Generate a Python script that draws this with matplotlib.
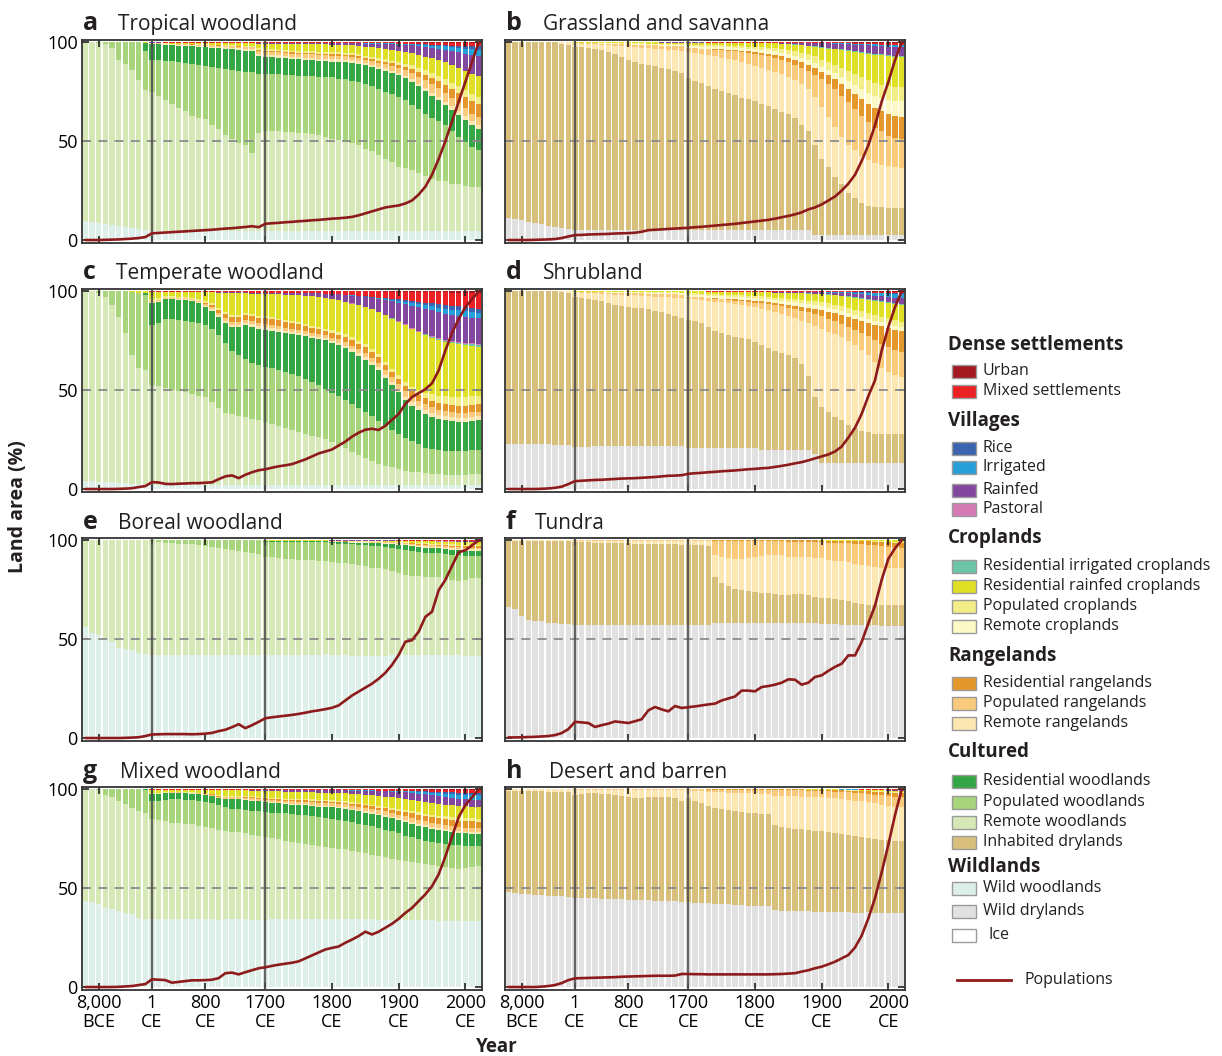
import numpy as np
import matplotlib
matplotlib.use("Agg")
import matplotlib.pyplot as plt
from matplotlib.patches import Rectangle

plt.rcParams['font.family'] = ['Open Sans', 'DejaVu Sans']

# one bar per time step: 10,000 BCE ... 1,000 BCE, 1 CE, 100 ... 1700 CE, 1710 ... 2000 CE, 2010, 2015
n_steps = 60
tick_pos = [2, 10, 18, 27, 37, 47, 57]
tick_labels = ['8,000\nBCE', '1\nCE', '800\nCE', '1700\nCE', '1800\nCE', '1900\nCE', '2000\nCE']

# stacking order, bottom first
order = ['ice', 'wd', 'ww', 'idl', 'rw', 'pw', 'resw', 'rr', 'pr', 'resr',
         'rc', 'pc', 'rrc', 'ric', 'pv', 'rv', 'iv', 'rice', 'mix', 'urb']
colors = {
    'urb': '#a3191f', 'mix': '#ed2024', 'rice': '#3a64b0', 'iv': '#27a0da',
    'rv': '#8447a0', 'pv': '#d67ab6', 'ric': '#6cc5a5', 'rrc': '#dfdf26',
    'pc': '#f2ed86', 'rc': '#fdf9c6', 'resr': '#e4982c', 'pr': '#f9c97c',
    'rr': '#fce7b3', 'resw': '#35a645', 'pw': '#a8d47b', 'rw': '#d5e8b6',
    'idl': '#d8bf7b', 'ww': '#dcefe9', 'wd': '#e1e1e1', 'ice': '#ffffff',
}

# ---- a  Tropical woodland (share of area, %) ----
a_ww = [9.5, 9, 8.5, 8, 7.5, 7, 6.5, 6, 5.5, 5] + [4.5] * 50
a_rw = [90.5, 91, 91, 91, 89.5, 84, 82.5, 80, 75.5, 71,
        70.5, 68.5, 66.5, 64.5, 62.5, 60.5, 58.5, 57.5, 56.5, 53.5,
        51.5, 48.5, 46.5, 44.5, 43.5, 39.5, 49.5, 50.5, 50.5, 50.5,
        50, 50, 49.5, 49.5, 49, 48.5, 47.5, 46.5, 46, 45.5,
        44.5, 43.5, 41.5, 40.5, 38.5, 36.5, 34.5, 32.5, 31.5, 30.5,
        29.5, 28, 26.5, 25.5, 25, 24, 23.5, 23, 22.5, 22.5]
a_pw = [0, 0, 0.5, 1, 3, 9, 11, 14, 19, 19.5,
        16.4, 18, 20, 21.5, 23, 24.5, 26, 26.5, 27, 29.5,
        31, 33.5, 35, 36.5, 37, 41, 30, 29, 29, 29,
        29, 29, 29, 29, 29.5, 29.5, 30.5, 31, 31, 31,
        31.5, 32, 33, 33, 33.5, 34, 34.5, 35, 34, 33,
        32, 31.5, 31, 30, 28.5, 26.5, 24, 22.5, 20, 18.5]
a_resw = [0] * 9 + [4,
          8, 8, 8, 8, 8.5, 8.5, 9, 9.5, 9.5, 9.5,
          10, 10, 10.5, 10.5, 10.5, 10.5, 9, 8.5, 8.5, 8,
          8.5, 8, 8.5, 8, 8, 8, 8, 8, 8.5, 8.5,
          9, 9, 9.5, 9.5, 10, 10.5, 10.5, 11, 11, 11.5,
          11.5, 11.5, 11, 10.5, 10, 11, 11, 11, 11, 10.5]
a_rr = [0] * 9 + [0.2] + [0.2, 0.3, 0.3, 0.4, 0.4, 0.5, 0.5, 0.6, 0.6, 0.7,
                          0.8, 0.8, 0.9, 1, 1.1, 1.2, 1.2, 1.2, 1.2, 1.2] + [1.2] * 18 + \
       [1.3, 1.3, 1.4, 1.4, 1.5, 1.5, 1.6, 1.7, 1.8, 1.9, 2, 2]
a_pr = [0] * 9 + [0.1] + [0.1, 0.2, 0.2, 0.3, 0.3, 0.3, 0.4, 0.4, 0.5, 0.6,
                          0.6, 0.7, 0.7, 0.8, 0.9, 0.9, 1.5, 1.5, 1.5, 1.6,
                          1.6, 1.6, 1.7, 1.7, 1.7, 1.8, 1.8, 1.8, 1.8, 1.7,
                          1.6, 1.6, 1.5, 1.7, 1.9, 2.1, 2.3, 2.5, 2.8, 3.1,
                          3.5, 4, 4.5, 4.5, 4.5, 4.3, 4.2, 4.1, 4, 4]
a_resr = [0] * 12 + [0.05, 0.05, 0.1, 0.1, 0.1, 0.1, 0.1, 0.1,
                     0.2, 0.2, 0.2, 0.2, 0.2, 0.2, 0.5, 0.5, 0.5, 0.5,
                     0.5, 0.6, 0.6, 0.6, 0.6, 0.7, 0.7, 0.7, 0.8, 0.8,
                     0.9, 0.9, 1, 1.1, 1.2, 1.3, 1.4, 1.5, 1.7, 2,
                     2.4, 2.7, 3, 3.5, 4, 4.5, 5, 5.7, 6.4, 7]
a_pc = [0] * 10 + [0.1, 0.1, 0.1, 0.1, 0.2, 0.2, 0.2, 0.2, 0.3, 0.3,
                   0.3, 0.3, 0.4, 0.4, 0.4, 0.5, 0.8, 0.8, 0.8, 0.8,
                   0.8, 0.9, 0.9, 0.9, 0.9, 1, 1, 1, 1, 1,
                   1, 1, 1, 1, 1.1, 1.2, 1.3, 1.4, 1.6, 1.8,
                   2, 2.3, 2.5, 2.7, 2.9, 3.1, 3.3, 3.4, 3.5, 3.5]
a_rrc = [0] * 9 + [0.2] + [0.2, 0.3, 0.4, 0.4, 0.5, 0.5, 0.6, 0.7, 0.8, 0.8,
                           0.9, 1, 1.1, 1.2, 1.3, 1.4, 2.4, 2.8, 2.9, 3,
                           3.1, 3.2, 3.3, 3.4, 3.5, 3.6, 3.7, 3.8, 3.9, 4,
                           4.2, 4.5, 4.8, 5, 5.2, 5.3, 5.4, 5.5, 5.8, 6.1,
                           6.5, 7, 7.5, 8, 8.5, 9, 9.5, 10, 10.3, 10.5]
a_rv = [0] * 10 + [0.05, 0.05, 0.05, 0.1, 0.1, 0.1, 0.1, 0.1, 0.1, 0.2,
                   0.1, 0.2, 0.2, 0.2, 0.2, 0.2, 0.4, 0.5, 0.5, 0.5,
                   0.6, 0.6, 0.6, 0.7, 0.7, 0.7, 0.7, 0.8, 0.8, 0.9,
                   1, 1.2, 1.5, 1.8, 2.1, 2.5, 2.9, 3.3, 3.7, 4,
                   4.4, 4.8, 5.2, 5.7, 6.3, 7, 7.8, 8.6, 9.4, 10]
a_iv = [0] * 30 + [0.05] * 10 + [0.1, 0.1, 0.2, 0.2, 0.3, 0.3, 0.4, 0.5, 0.6, 0.7,
                                 0.9, 1.1, 1.3, 1.5, 1.7, 2, 2.2, 2.5, 2.8, 3]
a_rice = [0] * 50 + [0.2, 0.3, 0.4, 0.5, 0.6, 0.8, 1, 1.3, 1.6, 2]
a_mix = [0] * 10 + [0.05, 0.05, 0.1, 0.1, 0.1, 0.1, 0.1, 0.1, 0.1, 0.1,
                    0.1, 0.1, 0.1, 0.2, 0.2, 0.2, 0.2, 0.2, 0.2, 0.2] + [0.3] * 10 + \
        [0.3, 0.3, 0.4, 0.4, 0.5, 0.5, 0.5, 0.6, 0.6, 0.7,
         0.8, 0.9, 1, 1.1, 1.2, 1.3, 1.4, 1.5, 1.5, 1.5]
a_urb = [0] * 50 + [0.1, 0.1, 0.2, 0.2, 0.2, 0.3, 0.3, 0.4, 0.5, 0.5]
pop_a = [0, 0, 0, 0.1, 0.2, 0.3, 0.5, 0.7, 1, 1.5,
         3.4, 3.6, 3.8, 4, 4.2, 4.4, 4.6, 4.8, 5, 5.2,
         5.5, 5.8, 6, 6.3, 6.6, 7, 6.5, 8.2, 8.5, 8.7,
         9, 9.2, 9.5, 9.7, 10, 10.2, 10.5, 10.8, 11, 11.3,
         11.7, 12.5, 13.5, 14.5, 15.5, 16.5, 17, 17.5, 18.5, 20,
         23, 27, 33, 41, 50, 60, 70, 80, 90, 100]

# ---- b  Grassland and savanna ----
b_wd = [11, 10.5, 10, 9, 8.5, 8, 7, 6.5, 6, 5.5] + [5] * 36 + [2.5] * 14
b_idl = [89, 89.5, 90, 91, 91.5, 92, 93, 93.5, 93, 92.5,
         92.8, 92.4, 92, 91.5, 91, 90.2, 89.2, 87.5, 86, 85,
         84, 83.5, 83, 82.2, 81.5, 80.3, 79.3, 76.8, 75.5, 74.5,
         73, 71.5, 70.5, 69.5, 68.5, 67, 66, 65, 63.5, 62.5,
         61, 59.8, 58.5, 56.5, 53, 50, 45.5, 38.5, 34.5, 29.5,
         26, 21.5, 18.5, 16, 14.5, 14, 13.7, 13.5, 13.5, 13.5]
b_rr = [0] * 8 + [1, 1.5,
                  1.7, 1.9, 2, 2.5, 2.8, 3.3, 4.1, 5.5, 6.8, 7.5,
                  8.3, 8.5, 8.8, 9.3, 9.8, 10.7, 11.2, 13.2, 14, 14.5,
                  15.5, 16.5, 16.5, 17, 17.5, 18, 18, 18, 18.5, 18.5,
                  19, 19.2, 19, 19.5, 21, 21, 24, 26, 25, 25,
                  23.5, 24, 24, 23.5, 23, 22, 21.3, 21, 20.5, 20.5]
b_pr = [0] * 10 + [0.2, 0.3, 0.4, 0.4, 0.5, 0.7, 0.8, 1, 1.1, 1.3,
                   1.4, 1.6, 1.7, 1.9, 2, 2.2, 2.5, 2, 2.3, 2.6,
                   2.9, 3.2, 4, 4.1, 4.3, 5, 5.5, 6, 6.3, 6.6,
                   7, 7, 7.5, 7.5, 8, 9, 11, 14, 16.5, 19,
                   21, 22, 21, 20, 19, 17.5, 16.5, 15, 15, 14.5]
b_resr = [0] * 30 + [0.2, 0.3, 0.4, 0.5, 0.6, 0.7, 0.8, 1, 1.2, 1.4,
                     1.5, 1.7, 2, 2.5, 2.8, 3.3, 3.7, 4, 4.5, 5,
                     6, 6.5, 7.5, 8.5, 9, 10, 10, 11, 11, 11]
b_rc = [0] * 10 + [0.1, 0.1, 0.2, 0.2, 0.2, 0.2, 0.3, 0.3, 0.3, 0.4,
                   0.4, 0.4, 0.5, 0.5, 0.5, 0.6, 0.6, 1, 1, 1.1,
                   1.1, 1.1, 1.2, 1.3, 1.3, 1.4, 1.4, 1.5, 1.6, 1.7,
                   1.8, 1.9, 2, 2.1, 2.2, 2.3, 2.4, 2.5, 2.8, 3.1,
                   3.5, 4, 4.5, 5, 5.5, 6, 6.5, 7, 7.5, 8]
b_pc = [0] * 10 + [0.1] * 5 + [0.2] * 5 + [0.3, 0.3, 0.3, 0.3, 0.4, 0.4, 0.4, 0.7, 0.7, 0.8,
                                           0.8, 0.8, 0.8, 0.9, 0.9, 0.9, 1, 1, 1.2, 1.4,
                                           1.6, 1.8, 2, 2.3, 2.6, 2.9, 3.2, 3.5, 3.8, 4.1,
                                           4.5, 5, 5.5, 6, 6.3, 6.6, 6.8, 7, 7, 7]
b_rrc = [0] * 10 + [0.1, 0.1, 0.2, 0.2, 0.3, 0.3, 0.3, 0.4, 0.5, 0.5,
                    0.5, 0.6, 0.6, 0.7, 0.7, 0.7, 0.9, 1.1, 1.2, 1.2,
                    1.2, 1.3, 1.3, 1.4, 1.5, 1.6, 1.8, 1.8, 2, 2.2,
                    2.4, 2.7, 3, 3.4, 3.8, 4.3, 5, 6, 7, 8,
                    9, 10, 11, 12, 13, 14, 14.5, 15, 15, 15]
b_ric = [0] * 40 + [0.05, 0.05, 0.1, 0.1, 0.1, 0.1, 0.2, 0.3, 0.3, 0.3,
                    0.4, 0.4, 0.4, 0.5, 0.5, 0.5, 0.5, 0.5, 0.5, 0.5]
b_rv = [0] * 23 + [0.05] * 4 + [0.1] * 7 + [0.2] * 3 + [0.3] * 3 + \
       [0.4, 0.5, 0.6, 0.8, 1, 1.3, 1.6, 2, 2.3, 2.6,
        2.9, 3.1, 3.3, 3.5, 3.7, 3.9, 4.1, 4.3, 4.4, 4.5]
b_iv = [0] * 42 + [0.05, 0.05, 0.1, 0.1, 0.1, 0.2, 0.2, 0.3,
                   0.3, 0.4, 0.5, 0.6, 0.6, 0.7, 0.8, 0.9, 1, 1]
b_mix = [0] * 10 + [0.05] * 20 + [0.1] * 12 + [0.2] * 6 + [0.3, 0.3] + \
        [0.4, 0.5, 0.5, 0.6, 0.7, 0.8, 0.8, 0.9, 1, 1]
b_urb = [0] * 52 + [0.1, 0.1, 0.2, 0.2, 0.3, 0.3, 0.4, 0.5]
pop_b = [0, 0, 0, 0, 0.1, 0.2, 0.3, 0.5, 1, 1.8,
         2.5, 2.6, 2.8, 2.9, 3, 3.1, 3.3, 3.4, 3.5, 3.7,
         4.2, 5, 5.2, 5.4, 5.6, 5.8, 6, 6.2, 6.5, 6.7,
         7, 7.3, 7.6, 7.9, 8.2, 8.6, 9, 9.4, 9.8, 10.2,
         10.8, 11.5, 12.2, 13, 14, 15.5, 16.5, 18, 20, 22,
         25, 28.5, 33, 40, 48, 58, 70, 80, 91, 100]

# ---- c  Temperate woodland ----
c_ww = [4, 4, 3.8, 3.6, 3.4, 3.2, 3, 2.8, 2.6, 2.5] + [2.2] * 50
c_rw = [96, 96, 95.2, 93.4, 89.6, 83.8, 76, 65.2, 59.4, 57.5,
        50.3, 49.8, 48.8, 47.8, 47.3, 46.8, 45.8, 44.8, 44.3, 41.8,
        38.8, 36.3, 35.8, 34.8, 34.3, 33.3, 32.8, 31.8, 30.8, 29.8,
        28.8, 27.8, 26.8, 25.8, 24.8, 24.3, 23.3, 21.8, 20.3, 18.8,
        16.8, 15.3, 13.8, 12.3, 10.8, 9.8, 9.2, 8.3, 7.3, 6.8,
        6.3, 5.8, 5.5, 5.3, 5.1, 5, 5, 5.1, 5.3, 5.5]
c_pw = [0, 0, 1, 3, 7, 13, 21, 32, 38, 38,
        30.5, 32, 35, 36, 36, 36, 36.5, 37, 36.5, 37,
        37, 35.5, 32, 31, 29.5, 28.5, 28, 28, 28.5, 28.5,
        28.5, 28.5, 28.5, 28, 27.5, 26.5, 25.5, 25.5, 25.5, 25,
        25, 24.5, 24, 23.5, 22.5, 21, 19, 18, 17, 16,
        14.5, 13, 12.3, 12, 11.7, 11.8, 11.8, 11.7, 12, 12.3]
c_resw = [0] * 9 + [1,
          11, 10.5, 10, 10, 10, 10.5, 10.5, 10, 9, 9,
          9, 10, 12, 14, 17, 18, 18.5, 19, 19, 19.5,
          20, 20.5, 21, 22, 22.5, 23.5, 25, 25.5, 26, 26.5,
          27, 27, 27, 26.5, 26.5, 25, 23.5, 21.5, 19.5, 18,
          17.5, 17, 16.5, 15.5, 15.5, 15, 15, 15, 15, 15]
c_rr = [0] * 9 + [0.2] + [0.5, 0.5, 0.4, 0.4, 0.5, 0.5, 0.5, 0.6, 0.8, 1,
                          1.2, 1.3, 1.4, 1.4, 1.4, 1.5, 1.5, 1.5, 1.3, 1.2,
                          1.1, 1, 1, 1, 1, 1, 1, 1.1, 1.2, 1.3,
                          1.4, 1.5, 1.5, 1.5, 1.5, 1.5, 1.5, 1.6, 1.7, 1.8] + [1.9] + [2] * 9
c_resr = [0] * 18 + [0.5, 1,
                     1.5, 2, 2.5, 2.5, 2.5, 2.5, 2.5, 3, 3, 3,
                     3, 3, 3, 3, 3, 3, 2.5, 2.5, 2.5, 2.5,
                     2.8, 3, 3, 3, 3, 3, 3, 3, 3, 3,
                     3, 3, 3.2, 3.3, 3.4, 3.5, 3.5, 3.6, 3.8, 4]
c_pr = [0] * 10 + [0.5, 0.5, 0.4, 0.4, 0.5, 0.5, 0.5, 0.6, 0.8, 1,
                   1.2, 1.3, 1.5, 1.5, 1.5, 1.5, 1.5, 1.5, 1.5, 1.5,
                   1.5, 1.5, 1.5, 1.5, 1.5, 1.5, 1.5, 1.7, 1.8, 1.9,
                   2, 2, 2.1, 2.2, 2.3, 2.4, 2.5, 2.6, 2.7, 2.8,
                   2.9, 3, 2.9, 2.8, 2.7, 2.6, 2.5, 2.3, 2.2, 2]
c_pc = [0] * 10 + [1, 1, 0.8, 0.8, 0.8, 0.8, 0.9, 1, 1, 1] + [1] * 17 + [1.2, 1.3, 1.4,
        1.5, 1.5, 1.5, 1.5, 1.5, 1.5, 1.6, 1.8, 2, 2.2,
        2.5, 3, 3.3, 3.6, 3.9, 4.2, 4.5, 4.5, 4.3, 4]
c_rrc = [0, 0, 0, 0, 0, 0, 0, 0.5, 1, 0.8,
         4, 3.5, 2.4, 2.4, 2.6, 2.6, 3, 3.7, 4.6, 5.6,
         7.6, 10, 10.9, 10.9, 9.8, 10.6, 11.2, 11.2, 11.8, 12.3,
         12.8, 13.4, 13.8, 14.3, 15, 15.3, 15.8, 16.2, 16.4, 16.8,
         17.5, 18.5, 19.4, 20.7, 22, 24.3, 26, 27.5, 29, 29.8,
         29.6, 29, 28.5, 28, 27.5, 27, 26.5, 26, 25.5, 25]
c_ric = [0] * 45 + [0.1, 0.1, 0.2, 0.2, 0.3, 0.4, 0.5, 0.5, 0.6, 0.6, 0.7, 0.7, 0.8, 0.8, 0.8]
c_pv = [0] * 40 + [0.1, 0.1, 0.1, 0.1, 0.2, 0.2, 0.3, 0.3, 0.4, 0.4] + [0.5] * 10
c_rv = [0] * 20 + [0.2, 0.3, 0.4, 0.5, 0.5, 0.5, 0.6, 0.7, 0.8, 0.9,
                   1, 1.1, 1.2, 1.3, 1.5, 1.7, 2, 2.5, 3, 3.5,
                   4, 4.5, 5, 5.5, 6.5, 7.5, 8.5, 9.5, 10.5, 11.5,
                   12, 12.5, 12.8] + [13] * 7
c_iv = [0] * 40 + [0.1, 0.2, 0.3, 0.4, 0.5, 0.6, 0.8, 1, 1.2, 1.4,
                   1.6, 1.8, 2, 2.2, 2.4, 2.6, 2.8, 3, 3, 3]
c_rice = [0] * 40 + [0.1, 0.1, 0.2, 0.2, 0.3, 0.4, 0.5, 0.6, 0.8, 1,
                     1.2, 1.4, 1.6, 1.8] + [2] * 6
c_mix = [0] * 10 + [0.1, 0.1, 0.1, 0.1, 0.2, 0.2, 0.2, 0.2, 0.3, 0.4,
                    0.4, 0.4, 0.5, 0.5, 0.5, 0.6, 0.6, 0.6, 0.6, 0.6,
                    0.7, 0.7, 0.8, 0.9, 1, 1, 1.2, 1.3, 1.5, 1.8,
                    2, 2.3, 2.6, 3, 3.3, 3.5, 3.8, 4, 4.3, 4.6,
                    5, 5.3, 5.6, 6, 6.3, 6.6, 7, 7.3, 7.6, 8]
c_urb = [0] * 45 + [0.1, 0.1, 0.2, 0.2, 0.3, 0.3, 0.4, 0.4, 0.5, 0.5, 0.6, 0.6, 0.7, 0.7, 0.7]
pop_c = [0, 0, 0, 0, 0, 0.1, 0.2, 0.4, 1, 1.5,
         3.5, 3.3, 2.6, 2.5, 2.7, 2.8, 3, 3, 3.2, 3.4,
         5, 6.4, 6.9, 5.5, 7.2, 8.5, 9.5, 10, 10.8, 11.5,
         12, 12.6, 13.8, 15, 16.5, 18, 19, 20, 22, 24,
         26.5, 28.5, 30, 30.5, 29.9, 32, 35, 38, 43, 46.5,
         48.5, 50.5, 53.5, 60, 70, 79, 86, 92, 96, 100]

# ---- d  Shrubland ----
d_wd = [23, 23, 23, 23, 22.8, 22.7, 22.6, 22.5, 22.3, 22.2] + [21.5] * 17 + [20.5] * 11 + \
       [19.5] * 8 + [17.5] + [13] * 13
d_idl = [77, 77, 77, 77, 77.2, 77.3, 77.4, 77.5, 77.2, 76.8,
         75.5, 75, 74.5, 74, 73.5, 72.5, 71.5, 71, 70.5, 70,
         69.7, 69.5, 68.5, 67.5, 66.5, 65.5, 64.5, 64.9, 64, 63,
         61, 59, 58, 57, 56, 55.5, 54.8, 53.5, 53, 51.5,
         50, 49, 48, 46.5, 43.5, 37.5, 28.5, 28, 25, 22.5,
         21, 18.5, 17, 15.5, 15, 14.5, 14.3, 14.5, 14.7, 14.7]
d_rr = [0] * 8 + [0.5, 1,
                  2.5, 2.8, 3, 3.3, 3.6, 4.4, 5.2, 5.5, 5.8, 6.1,
                  6.2, 6.2, 7, 7.8, 8.6, 9.4, 10.2, 10.6, 11.1, 11.7,
                  13.3, 14.9, 15.5, 16, 16.5, 16.5, 16.5, 17.2, 18, 18.8,
                  19.5, 19.5, 19.5, 20, 22, 26.5, 35.5, 38.5, 40, 41,
                  41, 41.5, 41, 40, 38, 35.5, 33.2, 31, 29.8, 29.3]
d_pr = [0] * 10 + [0.2, 0.3, 0.4, 0.5, 0.6, 0.7, 0.8, 0.9, 1, 1.1,
                   1.2, 1.3, 1.4, 1.5, 1.6, 1.7, 1.8, 1, 1.1, 1.2,
                   1.3, 1.4, 1.5, 1.7, 1.8, 1.9, 2.2, 2.4, 2.7, 3,
                   3.3, 3.8, 4.2, 4.6, 5, 5.5, 6, 6.5, 6.5, 6.5,
                   6.5, 7, 7.5, 8.5, 9.5, 11, 12, 12.5, 12.5, 12.5]
d_resr = [0] * 30 + [0.2, 0.3, 0.4, 0.5, 0.6, 0.7, 0.8, 0.9, 1, 1.1,
                     1.2, 1.3, 1.5, 1.7, 2, 2.3, 2.6, 3, 3.5, 4,
                     4.5, 5, 5.5, 6, 6.5, 7.5, 8.5, 9.5, 10, 10.5]
d_rc = [0] * 10 + [0.1, 0.1, 0.2, 0.2, 0.2, 0.3, 0.3, 0.3, 0.3, 0.4,
                   0.4, 0.4, 0.5, 0.5, 0.5, 0.6, 0.6, 1, 1, 1,
                   1, 1.1, 1.1, 1.2, 1.2, 1.3, 1.3, 1.4, 1.4, 1.5,
                   1.5, 1.6, 1.6, 1.7, 1.8, 1.9] + [2] * 14
d_pc = [0] * 10 + [0.1] * 5 + [0.2] * 5 + [0.2, 0.3, 0.3, 0.3, 0.4, 0.4, 0.4, 0.8, 0.8, 0.8,
                                           0.8, 0.8, 0.9, 0.9, 0.9, 1, 1, 1, 1.1, 1.2,
                                           1.3, 1.4, 1.5, 1.6, 1.7, 1.8, 1.9, 2, 2.1, 2.2,
                                           2.3, 2.4, 2.5, 2.6, 2.7, 2.8, 2.9, 3, 3, 3]
d_rrc = [0] * 10 + [0.1, 0.1, 0.2, 0.2, 0.2, 0.2, 0.3, 0.3, 0.3, 0.3,
                    0.4, 0.4, 0.4, 0.5, 0.5, 0.5, 0.6, 1, 1, 1.1,
                    1.2, 1.3, 1.4, 1.5, 1.6, 1.7, 1.8, 2, 2.1, 2.3,
                    2.5, 2.7, 2.9, 3.1, 3.3, 3.5, 3.7, 4, 4.3, 4.6,
                    5, 5.4, 5.8, 6.2, 6.6, 7, 7.4, 7.8, 8.2, 8.5]
d_ric = [0] * 45 + [0.1, 0.1, 0.1, 0.2, 0.2, 0.2, 0.3, 0.3, 0.3, 0.4, 0.4, 0.4, 0.5, 0.5, 0.5]
d_rv = [0] * 30 + [0.1, 0.1, 0.1, 0.1, 0.2, 0.2, 0.2, 0.3, 0.3, 0.3,
                   0.4, 0.4, 0.5, 0.5, 0.6, 0.6, 0.7, 0.8, 0.9, 1,
                   1.2, 1.4, 1.6, 1.8, 2, 2.2, 2.4, 2.6, 2.8, 3]
d_iv = [0] * 40 + [0.1, 0.1, 0.1, 0.1, 0.2, 0.2, 0.2, 0.3, 0.3, 0.4,
                   0.5, 0.6, 0.7, 0.8, 1, 1.2, 1.4, 1.6, 1.8, 2]
d_rice = [0] * 50 + [0.1, 0.1, 0.2, 0.2, 0.3, 0.3, 0.4, 0.4, 0.5, 0.5]
d_mix = [0] * 10 + [0.05] * 20 + [0.1] * 13 + [0.2] * 5 + [0.3, 0.3] + \
        [0.3, 0.3, 0.4, 0.4, 0.4, 0.5, 0.5, 0.5, 0.6, 0.6]
d_urb = [0] * 53 + [0.1] * 4 + [0.2] * 3
pop_d = [0, 0, 0, 0, 0, 0.1, 0.3, 0.6, 1.2, 2.5,
         4, 4.2, 4.4, 4.6, 4.7, 4.9, 5.1, 5.3, 5.4, 5.5,
         5.7, 5.9, 6.1, 6.4, 6.7, 6.8, 7, 7.7, 8, 8.2,
         8.5, 8.7, 9, 9.2, 9.4, 9.7, 10, 10.2, 10.5, 10.7,
         11.2, 11.7, 12.3, 13, 13.6, 14.5, 15.5, 16.5, 17.5, 19,
         21.5, 26, 31, 38, 47, 55, 70, 82, 92, 100]

# ---- e  Boreal woodland ----
e_ww = [56, 53, 52, 50.5, 48.5, 45.5, 45, 44.5, 43, 42.5] + [42] * 30 + [41.5] * 20
e_rw = [44, 47, 48, 49.5, 51.5, 54.5, 55, 55.5, 57, 57.5,
        57.5, 57, 56.8, 56.6, 56.4, 56.2, 56, 55.5, 55, 54.5,
        54, 53.5, 53, 52.5, 52, 51.5, 51, 49.5, 49.3, 49,
        48.5, 48.2, 48, 47.7, 47.5, 47.2, 47, 46.7, 46.3, 46,
        46, 45.5, 45, 44.5, 44, 43.5, 42.5, 41.5, 40.5, 40,
        39.5, 39.2, 38.9, 38.5, 38.3, 38, 37.5, 38, 39, 39.5]
e_pw = [0] * 10 + [0.5, 1, 1.2, 1.4, 1.6, 1.8, 2, 2.5, 3, 3.5,
                   4, 4.5, 5, 5.5, 6, 6.5, 7, 7.8, 7.9, 8.1,
                   8.5, 8.7, 8.8, 9, 9.1, 9.3, 9.4, 9.5, 9.7, 9.8,
                   10.1, 10.4, 10.7, 11, 11, 11, 11.5, 12, 12.5, 12.5,
                   12.5, 12.3, 12.1, 12, 12.2, 12.5, 13, 12.5, 11.5, 11.2]
e_resw = [0] * 27 + [0.2, 0.2, 0.3, 0.3, 0.3, 0.4, 0.4, 0.4, 0.5, 0.5,
                     0.6, 0.7, 0.8, 0.9, 1, 1.1, 1.3, 1.5, 1.7, 1.9,
                     2, 2.2, 2.4, 2.5, 2.5, 2.5, 2.5, 2.5, 2.5, 2.5,
                     2.5, 2.5, 2.5]
e_rr = [0] * 27 + [0.1] * 10 + [0.2] * 5 + [0.3] * 3 + [0.4] * 2 + [0.5] * 4 + [0.6] * 3 + \
       [0.7] * 3 + [0.8] * 3
e_pr = [0] * 27 + [0.1] * 10 + [0.2] * 5 + [0.3] * 3 + [0.4] * 2 + [0.5] * 4 + [0.6] * 3 + \
       [0.7] * 3 + [0.8] * 3
e_resr = [0] * 27 + [0.05] * 10 + [0.1] * 10 + [0.2, 0.2, 0.3, 0.3, 0.4, 0.4, 0.5, 0.5, 0.6,
                                               0.6, 0.7, 0.7, 0.8]
e_pc = [0] * 27 + [0.1] * 12 + [0.2] * 4 + [0.3] * 4 + [0.4] * 3 + [0.5] * 4 + [0.6] * 6
e_rrc = [0] * 27 + [0.1] * 10 + [0.2, 0.2, 0.2, 0.3, 0.3, 0.3, 0.4, 0.4, 0.5, 0.5,
                                 0.6, 0.7, 0.8, 0.9, 1, 1.1, 1.2, 1.3, 1.4, 1.5,
                                 1.5, 1.5, 1.5]
e_pv = [0] * 47 + [0.05, 0.05, 0.1, 0.1, 0.1, 0.1, 0.1, 0.1, 0.15, 0.15, 0.2, 0.2, 0.2]
e_rv = [0] * 37 + [0.05] * 10 + [0.1, 0.1, 0.1, 0.2, 0.2, 0.2, 0.3, 0.3, 0.3, 0.4, 0.4, 0.4, 0.4]
e_mix = [0] * 37 + [0.05] * 10 + [0.1] * 4 + [0.2] * 9
pop_e = [0, 0, 0, 0, 0, 0, 0.1, 0.2, 0.4, 1,
         1.8, 1.9, 2, 2, 2, 2, 1.9, 2, 2.2, 2.6,
         3.5, 4.2, 5.5, 7, 5, 6.5, 8.2, 10, 10.5, 10.9,
         11.3, 11.7, 12.2, 12.8, 13.5, 14, 14.6, 15.3, 16.5, 19,
         21.5, 23.5, 25.5, 27.5, 30, 33, 37, 42, 48.7, 49.5,
         53.8, 61.3, 63.9, 74.8, 80, 87, 94, 95, 97.5, 100]

# ---- f  Tundra ----
f_wd = [66.5, 65.5, 61.5, 59.5, 59, 59, 58.3, 58, 57.8, 57.6] + [57.3] * 37 + [56.7] * 13
f_idl = [33, 34, 38, 40, 40.5, 40.5, 41.2, 41.5, 41.7, 41.9,
         41.7, 41.7, 41.7, 41.5, 41.5, 41.3, 41.3, 41.2, 41.2, 41.1,
         41, 40.9, 40.9, 40.8, 40.7, 40.7, 40.5, 40.4, 40.3, 40.2,
         39.7, 22.7, 19.7, 18.2, 16.7, 16.2, 15.7, 15.4, 15.1, 14.9,
         14.7, 14.2, 14.2, 14.7, 14.7, 13.7, 13.2, 13.3, 13, 12.8,
         12.3, 11.8, 11.3, 10.8, 10.3, 10.3, 10.3, 10.3, 10.3, 10.3]
f_rr = [0.5] * 10 + [0.6, 0.6, 0.6, 0.8, 0.8, 1, 1, 1.1, 1.1, 1.2,
                     1.3, 1.4, 1.4, 1.5, 1.6, 1.6, 1.8, 1.9, 2, 2.1,
                     2.6, 11, 13, 14, 15, 15.5, 16.5, 17.3, 18.1, 18.8,
                     19, 19.5, 19, 18.5, 18.5, 19, 19.5, 19.5, 19.3, 19,
                     19.5, 19.5, 19.5, 19.5, 19.5, 19, 19, 18.7, 18.7, 18.7]
f_pr = [0] * 10 + [0.4] * 21 + [7, 8, 8.5, 9, 9, 8.5, 8, 7.5, 7,
                                7, 7, 7.5, 7.5, 7.5, 7.5, 8, 8, 8.5, 9,
                                9, 9.5, 10, 10.5, 11, 11, 11, 11, 10.5, 10.3]
f_resr = [0] * 31 + [0.3, 0.3, 0.3, 0.3, 0.4, 0.4, 0.4, 0.4, 0.5,
                     0.5, 0.5, 0.6, 0.6, 0.7, 0.7, 0.8, 0.8, 0.9, 1,
                     1.1, 1.2, 1.3, 1.4, 1.6, 1.8, 2, 2.2, 2.4, 2.5]
f_pc = [0] * 47 + [0.1, 0.1, 0.1, 0.1, 0.1, 0.2, 0.2, 0.2, 0.3, 0.3, 0.4, 0.4, 0.5]
f_rrc = [0] * 47 + [0.1, 0.1, 0.1, 0.1, 0.2, 0.2, 0.3, 0.3, 0.4, 0.5, 0.6, 0.7, 0.8]
pop_f = [0.3, 0.3, 0.4, 0.5, 0.6, 0.8, 1, 1.5, 2.5, 4.5,
         8.2, 7.9, 7.6, 5.6, 6.5, 7.3, 8.4, 8, 7.6, 8.5,
         9.5, 14, 15.7, 14.5, 13.5, 16.2, 15.2, 15.6, 16, 16.5,
         17, 17.4, 19, 20, 21, 24, 24, 23.6, 25.8, 26.3,
         27, 28, 29.7, 29.5, 27, 28, 30.9, 31.7, 34, 36,
         37.6, 41.8, 41.8, 48.6, 58, 67, 80, 90.7, 96, 100]

# ---- g  Mixed woodland ----
g_ww = [43.5, 43.2, 42.2, 40, 39.3, 38.5, 37.6, 37, 35, 34.5] + [34.2] * 50
g_rw = [56.5, 56.8, 57.3, 57, 56.7, 55.5, 54.8, 53.7, 54, 53.7,
        50.6, 50, 49.6, 49, 48.6, 48.3, 48, 47.4, 46.8, 46.1,
        45.4, 44.8, 44.4, 44, 43.6, 43, 42.4, 41.8, 41.1, 40.4,
        39.8, 39.1, 38.5, 38, 37.6, 37, 36.4, 36, 35.6, 35.2,
        34.6, 34, 33.4, 32.8, 32.2, 31.6, 31, 30.5, 30, 29.5,
        29.1, 28.8, 28.4, 28, 27.7, 27.3, 27, 27.3, 28, 28.7]
g_pw = [0, 0, 0.5, 3, 4, 6, 7.6, 9.3, 11, 11.3,
        9.2, 9.8, 10.7, 11.8, 12.2, 12.2, 12.1, 12.4, 12.5, 12.5,
        12.4, 12, 11.4, 11.7, 11.9, 12.1, 12.3, 12.5, 12.9, 13.4,
        13.8, 14.2, 14.5, 14.6, 14.5, 14.6, 14.6, 14.6, 14.5, 14.4,
        14.5, 14.3, 14.4, 14.3, 14.2, 14, 13.8, 13.3, 12.8, 12.6,
        12.2, 11.8, 11.7, 11.8, 11.8, 11.9, 12, 11.5, 10.8, 10.1]
g_resw = [0] * 9 + [0.5,
          3.5, 3.5, 3.5, 3.3, 3.3, 3.3, 3.5, 3.5, 3.7, 3.7,
          3.5, 4, 5, 5.1, 5.1, 5.2, 5.1, 5.1, 5, 4.8,
          4.7, 4.8, 4.8, 5, 5.3, 5.5, 5.8, 5.8, 5.9, 6,
          6, 6.3, 6.2, 6.3, 6.4, 6.6, 6.6, 6.8, 7, 7,
          7.1, 7.1, 7, 6.8, 6.7, 6.6, 6.4, 6.4, 6.3, 6.2]
g_rr = [0] * 10 + [0.1] * 10 + [0.2] * 5 + [0.3] * 5 + \
       [0.4, 0.4, 0.4, 0.5, 0.5, 0.5, 0.6, 0.6, 0.6, 0.7,
        0.7, 0.7, 0.8, 0.8, 0.8, 0.9, 0.9, 0.9, 1, 1] + [1] * 10
g_pr = [0] * 10 + [0.2, 0.2, 0.2, 0.2, 0.2, 0.3, 0.3, 0.4, 0.4, 0.5,
                   0.6, 0.7, 0.7, 0.7, 0.8, 0.8, 0.9, 1, 1, 1.1,
                   1.1, 1.2, 1.2, 1.2, 1.3, 1.3, 1.4, 1.4, 1.5, 1.5,
                   1.5, 1.6, 1.6, 1.7, 1.7, 1.8, 1.8, 1.9, 1.9, 2] + [2] * 10
g_resr = [0] * 18 + [0.1, 0.2,
                     0.3, 0.4, 0.4, 0.4, 0.5, 0.5, 0.5, 0.6, 0.6, 0.6,
                     0.6, 0.7, 0.7, 0.7, 0.7, 0.8, 0.8, 0.8, 0.9, 0.9,
                     1, 1.1, 1.2, 1.3, 1.4, 1.5, 1.6, 1.8, 2, 2.2,
                     2.4, 2.6, 2.8, 3, 3.1, 3.2, 3.3, 3.4, 3.4, 3.4]
g_pc = [0] * 10 + [0.2] * 10 + [0.4] * 5 + [0.5] * 5 + [0.6] * 5 + [0.7] * 5 + \
       [0.8, 0.8, 0.9, 0.9, 1, 1, 1.1, 1.1, 1.2, 1.2,
        1.3, 1.3, 1.4, 1.4, 1.5, 1.5, 1.6, 1.6, 1.7, 1.7]
g_rrc = [0] * 10 + [1.8, 1.8, 1.4, 1.1, 1.1, 1.3, 1.4, 1.6, 1.8, 2.2,
                    2.7, 2.9, 2.8, 2.8, 2.8, 3, 3.2, 3.3, 3.5, 3.6,
                    3.6, 3.6, 3.7, 3.7, 3.7, 3.8, 3.8, 3.9, 4, 4.1,
                    4.2, 4.3, 4.5, 4.7, 4.9, 5, 5.2, 5.3, 5.5, 5.7] + [5.8, 5.9] + [6] * 8
g_rv = [0] * 20 + [0.2, 0.2, 0.3, 0.3, 0.3, 0.4, 0.5, 0.6, 0.7, 0.8,
                   0.9, 0.9, 1, 1, 1.1, 1.2, 1.2, 1.3, 1.4, 1.5,
                   1.7, 1.9, 2.1, 2.3, 2.5, 2.7, 3, 3.2, 3.5, 3.7,
                   3.8, 3.9, 4, 4, 3.9, 3.8, 3.7, 3.6, 3.5, 3.4]
g_iv = [0] * 40 + [0.1, 0.1, 0.1, 0.2, 0.2, 0.3, 0.4, 0.5, 0.6, 0.7,
                   0.9, 1.1, 1.3, 1.5, 1.7, 2, 2.2, 2.4, 2.6, 2.8]
g_rice = [0] * 45 + [0.1, 0.1, 0.2, 0.2, 0.3, 0.4, 0.5, 0.6, 0.7, 0.8, 0.9, 1, 1, 1, 1]
g_mix = [0] * 10 + [0.1] * 10 + [0.2] * 10 + [0.3] * 5 + [0.4] * 5 + \
        [0.5, 0.5, 0.5, 0.5, 0.6, 0.6, 0.6, 0.7, 0.7, 0.7,
         0.8, 0.9, 1, 1.1, 1.2, 1.3, 1.4, 1.5, 1.5, 1.6]
g_urb = [0] * 50 + [0.1, 0.1, 0.1, 0.2, 0.2, 0.2, 0.3, 0.3, 0.3, 0.3]
pop_g = [0, 0, 0, 0, 0, 0.1, 0.3, 0.5, 1, 1.5,
         3.9, 3.7, 3.5, 2.2, 2.6, 3, 3.4, 3.4, 3.5, 3.7,
         4.5, 7, 7.3, 6.4, 7.5, 8.5, 9.5, 10, 10.7, 11.3,
         11.8, 12.3, 13, 14.5, 16, 17.5, 19, 19.8, 20.5, 22.4,
         24, 25.8, 28, 26.6, 28, 30, 32, 34.5, 37.5, 40,
         43.5, 46.9, 51, 57, 66, 76, 86, 92, 96, 100]

# ---- h  Desert and barren ----
h_wd = [48, 47.5, 47, 47, 46.8, 46.5, 46.3, 46, 46, 45.8,
        45, 45, 44.8, 44.8, 44.6, 44.5, 44.4, 44.3, 44.2, 44,
        44, 43.8, 43.6, 43.5, 43.4, 43.3, 43.2, 42.8, 42.6, 42.4,
        42.2, 42, 41.8, 41.6, 41.4, 41.2, 41, 40.8, 40.6, 40.6,
        38.3, 38.2, 38.1, 38, 38, 37.9, 37.8, 37.7, 37.6, 37.5,
        37.4, 37.4] + [37.3] * 8
h_idl = [51.3, 51.8, 52.2, 52.2, 52.2, 52.5, 52.5, 52.7, 52.6, 52.7,
         52, 52.5, 53.2, 53.2, 53.2, 53, 52.6, 52.2, 51.8, 51.5,
         51.8, 52.2, 52.6, 52.8, 52.8, 52.2, 50.8, 52.6, 51.4, 50.6,
         49.3, 48.5, 48, 47.4, 47.3, 47.2, 47, 46.9, 46.7, 46.4,
         42.7, 41.8, 41.5, 41.2, 41, 40.9, 40.6, 40.3, 39.9, 39.5,
         39.1, 38.6, 38.2, 37.7, 37.2, 36.7, 36.5, 36.3, 36.2, 36.2]
h_rr = [0.7, 0.7, 0.8, 0.8, 1, 1, 1.2, 1.3, 1.4, 1.5,
        2.5, 2, 1.5, 1.5, 1.7, 2, 2.5, 3, 3.5, 4,
        3.7, 3.5, 3.3, 3.2, 3.3, 4, 5.5, 3.5, 4.8, 5.7,
        7, 7.8, 8.3, 9, 9.3, 9.5, 9.8, 10, 10.2, 10.3,
        14.5, 15.5, 15.9, 16.3, 16.3, 16.4, 16.6, 16.8, 17.1, 17.4,
        17.5, 17.7, 17.8, 18, 18, 18, 17.7, 17.4, 17, 16.8]
h_pr = [0] * 10 + [0.5] * 17 + [1, 1, 1, 1.2, 1.3, 1.4, 1.5, 1.6, 1.7, 1.8, 1.9, 2, 2] + \
       [3, 3, 3, 3, 3.1, 3.1, 3.2, 3.2, 3.3, 3.3,
        3.5, 3.6, 3.8, 4, 4.2, 4.4, 4.6, 4.8, 5, 5]
h_resr = [0] * 30 + [0.1] * 10 + [0.3, 0.3, 0.4, 0.4, 0.5, 0.5, 0.6, 0.6, 0.7, 0.7,
                                  0.8, 0.9, 1, 1.1, 1.2, 1.4, 1.6, 1.8, 2, 2.2]
h_pc = [0] * 45 + [0.1, 0.1, 0.1, 0.2, 0.2, 0.2, 0.3, 0.3, 0.3, 0.4, 0.4, 0.5, 0.5, 0.5, 0.5]
h_rrc = [0] * 45 + [0.1, 0.1, 0.1, 0.1, 0.2, 0.2, 0.2, 0.3, 0.3, 0.3, 0.4, 0.4, 0.5, 0.5, 0.5]
h_rv = [0] * 50 + [0.05, 0.05, 0.1, 0.1, 0.1, 0.1, 0.2, 0.2, 0.2, 0.2]
h_iv = [0] * 50 + [0.05, 0.05, 0.1, 0.1, 0.1, 0.2, 0.2, 0.2, 0.3, 0.3]
h_mix = [0] * 50 + [0.05, 0.05, 0.05, 0.1, 0.1, 0.1, 0.1, 0.2, 0.2, 0.2]
pop_h = [0, 0, 0, 0, 0, 0.2, 0.5, 1, 2, 3.5,
         4.4, 4.5, 4.6, 4.7, 4.8, 4.9, 5, 5.2, 5.3, 5.4,
         5.5, 5.6, 5.7, 5.7, 5.7, 5.8, 6.6, 6.6, 6.5, 6.5,
         6.4, 6.4, 6.4, 6.4, 6.4, 6.4, 6.4, 6.4, 6.4, 6.4,
         6.5, 6.6, 6.8, 7, 7.8, 8.5, 9.5, 10.3, 11.5, 12.8,
         14.5, 16.2, 20, 26, 34.7, 45, 58, 72, 87, 100]

layers_a = dict(ww=a_ww, rw=a_rw, pw=a_pw, resw=a_resw, rr=a_rr, pr=a_pr, resr=a_resr, pc=a_pc,
                rrc=a_rrc, rv=a_rv, iv=a_iv, rice=a_rice, mix=a_mix, urb=a_urb)
layers_b = dict(wd=b_wd, idl=b_idl, rr=b_rr, pr=b_pr, resr=b_resr, rc=b_rc, pc=b_pc, rrc=b_rrc,
                ric=b_ric, rv=b_rv, iv=b_iv, mix=b_mix, urb=b_urb)
layers_c = dict(ww=c_ww, rw=c_rw, pw=c_pw, resw=c_resw, rr=c_rr, resr=c_resr, pr=c_pr, pc=c_pc,
                rrc=c_rrc, ric=c_ric, pv=c_pv, rv=c_rv, iv=c_iv, rice=c_rice, mix=c_mix, urb=c_urb)
layers_d = dict(wd=d_wd, idl=d_idl, rr=d_rr, pr=d_pr, resr=d_resr, rc=d_rc, pc=d_pc, rrc=d_rrc,
                ric=d_ric, rv=d_rv, iv=d_iv, rice=d_rice, mix=d_mix, urb=d_urb)
layers_e = dict(ww=e_ww, rw=e_rw, pw=e_pw, resw=e_resw, rr=e_rr, pr=e_pr, resr=e_resr, pc=e_pc,
                rrc=e_rrc, pv=e_pv, rv=e_rv, mix=e_mix)
layers_f = dict(wd=f_wd, idl=f_idl, rr=f_rr, pr=f_pr, resr=f_resr, pc=f_pc, rrc=f_rrc)
layers_g = dict(ww=g_ww, rw=g_rw, pw=g_pw, resw=g_resw, rr=g_rr, pr=g_pr, resr=g_resr, pc=g_pc,
                rrc=g_rrc, rv=g_rv, iv=g_iv, rice=g_rice, mix=g_mix, urb=g_urb)
layers_h = dict(wd=h_wd, idl=h_idl, rr=h_rr, pr=h_pr, resr=h_resr, pc=h_pc, rrc=h_rrc,
                rv=h_rv, iv=h_iv, mix=h_mix)

# (row, col, letter, title, title x in px, layers, population)
panels = [
    (0, 0, 'a', 'Tropical woodland', 118, layers_a, pop_a),
    (0, 1, 'b', 'Grassland and savanna', 543, layers_b, pop_b),
    (1, 0, 'c', 'Temperate woodland', 116, layers_c, pop_c),
    (1, 1, 'd', 'Shrubland', 543, layers_d, pop_d),
    (2, 0, 'e', 'Boreal woodland', 118, layers_e, pop_e),
    (2, 1, 'f', 'Tundra', 535, layers_f, pop_f),
    (3, 0, 'g', 'Mixed woodland', 120, layers_g, pop_g),
    (3, 1, 'h', 'Desert and barren', 549, layers_h, pop_h),
]

legend_groups = [
    ('Dense settlements', 345, [('urb', 'Urban', 371), ('mix', 'Mixed settlements', 391)]),
    ('Villages', 421, [('rice', 'Rice', 448), ('iv', 'Irrigated', 467),
                       ('rv', 'Rainfed', 490), ('pv', 'Pastoral', 509)]),
    ('Croplands', 538, [('ric', 'Residential irrigated croplands', 566),
                        ('rrc', 'Residential rainfed croplands', 586),
                        ('pc', 'Populated croplands', 606), ('rc', 'Remote croplands', 626)]),
    ('Rangelands', 656, [('resr', 'Residential rangelands', 683),
                         ('pr', 'Populated rangelands', 703), ('rr', 'Remote rangelands', 723)]),
    ('Cultured', 752, [('resw', 'Residential woodlands', 781), ('pw', 'Populated woodlands', 802),
                       ('rw', 'Remote woodlands', 822), ('idl', 'Inhabited drylands', 842)]),
    ('Wildlands', 867, [('ww', 'Wild woodlands', 888), ('wd', 'Wild drylands', 911),
                        ('ice', 'Ice', 935)]),
]

W, H = 1222, 1056
fig = plt.figure(figsize=(W / 100, H / 100), dpi=100)

col_left = [82, 505]
row_top = [40, 289, 538, 787]
ax_w, ax_h = 400, 203
x = np.arange(n_steps)

for row, col, letter, title, tx, layers, pop in panels:
    l, t = col_left[col], row_top[row]
    ax = fig.add_axes([l / W, 1 - (t + ax_h) / H, ax_w / W, ax_h / H])
    arr = {}
    for k, v in layers.items():
        assert len(v) == n_steps, (letter, k, len(v))
        arr[k] = np.array(v, dtype=float)
    total = sum(arr.values())
    bottom = np.zeros(n_steps)
    for key in order:
        if key not in arr:
            continue
        h = arr[key] / total * 100
        ax.bar(x, h, bottom=bottom, width=0.82, color=colors[key], linewidth=0, zorder=1)
        bottom += h
    ax.axhline(50, color='#8c8c8c', lw=1.3, ls=(0, (5, 4)), zorder=2)
    for xv in (10, 27):
        ax.axvline(xv, color='#4d4d4d', lw=1.6, alpha=0.85, zorder=3)
    ax.plot(x, pop, color='#8e1b1b', lw=1.9, zorder=4, solid_capstyle='round')

    ax.set_xlim(-0.5, n_steps - 0.5)
    ax.set_ylim(-1.5, 101.2)
    ax.set_yticks([0, 50, 100])
    ax.set_xticks(tick_pos)
    ax.tick_params(direction='in', top=True, right=True, length=5, width=1.2,
                   color='#222222', labelsize=13, pad=3)
    if row == 3:
        ax.set_xticklabels(tick_labels, linespacing=1.05)
    else:
        ax.set_xticklabels([])
    if col == 1:
        ax.set_yticklabels([])
    for sp in ax.spines.values():
        sp.set_color('#333333')
        sp.set_linewidth(1.3)

    base = 30 + row * 249.3
    fig.text((l + 1) / W, 1 - base / H, letter, fontsize=18, fontweight='bold',
             va='baseline', ha='left', color='#231f20')
    fig.text(tx / W, 1 - base / H, title, fontsize=15, va='baseline', ha='left', color='#231f20')

fig.text(18 / W, 1 - 507 / H, 'Land area (%)', rotation=90, fontsize=14, fontweight='bold',
         va='center', ha='center', color='#231f20')
fig.text(497 / W, 1 - 1047 / H, 'Year', fontsize=13.5, fontweight='bold',
         va='center', ha='center', color='#231f20')

# legend drawn in pixel coordinates
lax = fig.add_axes([0, 0, 1, 1])
lax.set_xlim(0, W)
lax.set_ylim(H, 0)
lax.axis('off')
for header, hy, items in legend_groups:
    lax.text(948, hy, header, fontsize=13.5, fontweight='bold', va='center', ha='left',
             color='#231f20')
    for key, label, iy in items:
        lax.add_patch(Rectangle((952, iy - 6.5), 24, 13, facecolor=colors[key],
                                edgecolor='#9a9a9a', lw=1))
        lax.text(989 if key == 'ice' else 983, iy, label, fontsize=11.5, va='center', ha='left',
                 color='#231f20')
lax.plot([957, 1011], [980, 980], color='#8e1b1b', lw=2)
lax.text(1025, 980, 'Populations', fontsize=11.5, va='center', ha='left', color='#231f20')

fig.savefig('out.png', dpi=100)
